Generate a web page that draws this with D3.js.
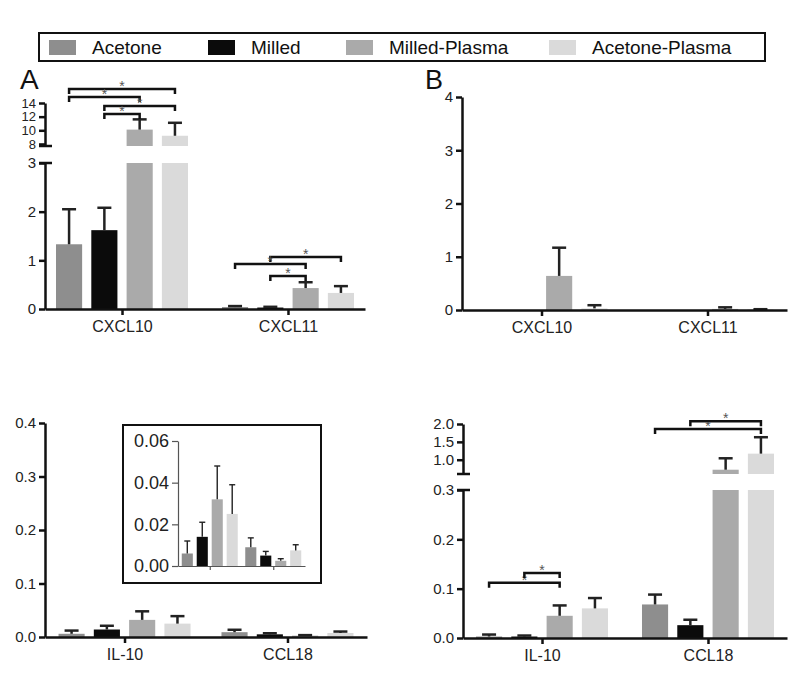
<!DOCTYPE html>
<html>
<head>
<meta charset="utf-8">
<script src="https://cdn.jsdelivr.net/npm/d3@7"></script>
<style>
  body { margin: 0; background: #fff; }
  svg { font-family: "Liberation Sans", Arial, sans-serif; }
</style>
</head>
<body>
<svg id="chart" width="800" height="680"></svg>
<script>
// *** Cytokine bar panels (A / B) ***

// Data
const series = ["Acetone", "Milled", "Milled-Plasma", "Acetone-Plasma"];
const colors = ["#8e8e8e", "#0b0b0b", "#aaaaaa", "#dadada"];
const topGroups = ["CXCL10", "CXCL11"];
const bottomGroups = ["IL-10", "CCL18"];

// panel A, top (means and upper error per group)
const aTopMeans = [[1.33, 1.62, 10.1, 9.2], [0.04, 0.03, 0.43, 0.33]];
const aTopErrs = [[0.72, 0.46, 1.5, 1.9], [0.02, 0.015, 0.12, 0.14]];
// panel B, top
const bTopMeans = [[0, 0, 0.64, 0.03], [0, 0, 0.02, 0.01]];
const bTopErrs = [[0, 0, 0.53, 0.06], [0, 0, 0.03, 0.005]];
// panel A, bottom (also used by inset)
const aBotMeans = [[0.006, 0.014, 0.032, 0.025], [0.009, 0.005, 0.0025, 0.0075]];
const aBotErrs = [[0.006, 0.007, 0.016, 0.014], [0.0045, 0.002, 0.001, 0.0027]];
// panel B, bottom
const bBotMeans = [[0.003, 0.003, 0.045, 0.060], [0.068, 0.026, 0.72, 1.17]];
const bBotErrs = [[0.004, 0.002, 0.021, 0.021], [0.020, 0.011, 0.32, 0.46]];

// tick labels
const aTopLowTicks = [0, 1, 2, 3];
const aTopHighTicks = [8, 10, 12, 14];
const bTopTicks = [0, 1, 2, 3, 4];
const aBotTicks = [0, 0.1, 0.2, 0.3, 0.4];
const insetTicks = [0, 0.02, 0.04, 0.06];
const bBotLowTicks = [0, 0.1, 0.2, 0.3];
const bBotHighTicks = [1.0, 1.5, 2.0];

// significance brackets: [group index, series i, series j, height (value)]
const aTopSig = [[0, 0, 3, 16.05], [0, 0, 2, 14.87], [0, 1, 3, 13.56], [0, 1, 2, 12.39],
                 [1, 1, 3, 1.07], [1, 0, 2, 0.925], [1, 1, 2, 0.68]];
const bBotSig = [[0, 0, 2, 0.112], [0, 1, 2, 0.132], [1, 0, 3, 1.86], [1, 1, 3, 2.08]];

let svg = d3.select("#chart");

// Function to draw one panel (optionally with a broken y axis)
function drawPanel(p) {
    let g = svg.append("g");
    let x = d3.scalePoint().domain(p.groups).range([p.x0, p.x1]).padding(p.pad);
    let inner = d3.scaleBand().domain(series).range([-p.half, p.half]).paddingInner(0.26);
    let bw = inner.bandwidth();
    let yLo = d3.scaleLinear().domain(p.loDomain).range(p.loRange);
    let yHi = p.hiDomain ? d3.scaleLinear().domain(p.hiDomain).range(p.hiRange) : null;

    // bars
    p.means.forEach(function(vals, gi) {
        vals.forEach(function(v, si) {
            let bx = x(p.groups[gi]) + inner(series[si]);
            let loTop = yLo(Math.min(v, p.loDomain[1]));
            g.append("rect")
                .attr("x", bx).attr("y", loTop)
                .attr("width", bw).attr("height", yLo(0) - loTop)
                .attr("fill", colors[si]);
            let inHigh = yHi && v > p.hiDomain[0];
            if (inHigh) {
                g.append("rect")
                    .attr("x", bx).attr("y", yHi(v))
                    .attr("width", bw).attr("height", yHi(p.hiDomain[0]) - yHi(v))
                    .attr("fill", colors[si]);
            }
            // error bar (upper only)
            let e = p.errs[gi][si];
            if (e > 0) {
                let sc = inHigh ? yHi : yLo;
                let cx = bx + bw / 2;
                g.append("line")
                    .attr("x1", cx).attr("x2", cx)
                    .attr("y1", sc(v)).attr("y2", sc(v + e))
                    .attr("stroke", "#222").attr("stroke-width", p.ew);
                g.append("line")
                    .attr("x1", cx - p.cap / 2).attr("x2", cx + p.cap / 2)
                    .attr("y1", sc(v + e)).attr("y2", sc(v + e))
                    .attr("stroke", "#222").attr("stroke-width", p.ew);
            }
        });
    });

    // x axis
    let xAxis = g.append("g")
        .attr("transform", `translate(0, ${yLo(0)})`)
        .call(d3.axisBottom(x).tickSize(p.xTick).tickSizeOuter(0).tickPadding(6)
            .tickFormat(p.xLabels ? (d => d) : () => ""));

    // y axes
    let yAxisLo = g.append("g")
        .attr("transform", `translate(${p.x0}, 0)`)
        .call(d3.axisLeft(yLo).tickValues(p.loTicks).tickSize(6).tickSizeOuter(0)
            .tickFormat(d3.format(p.fmt)));
    let axes = [xAxis, yAxisLo];
    let yAxisHi = null;
    if (yHi) {
        yAxisHi = g.append("g")
            .attr("transform", `translate(${p.x0}, 0)`)
            .call(d3.axisLeft(yHi).tickValues(p.hiTicks).tickSize(6).tickSizeOuter(0)
                .tickFormat(d3.format(p.hiFmt)));
        axes.push(yAxisHi);
        // break marks
        [yLo(p.loDomain[1]), yHi(p.hiDomain[0])].forEach(function(yy) {
            g.append("line")
                .attr("x1", p.x0 - 6).attr("x2", p.x0 + 7)
                .attr("y1", yy).attr("y2", yy)
                .attr("stroke", p.axisColor).attr("stroke-width", p.lw);
        });
    }
    axes.forEach(function(a) {
        a.selectAll(".domain, .tick line")
            .attr("stroke", p.axisColor).attr("stroke-width", p.lw);
        a.selectAll("text")
            .attr("font-size", p.font).attr("fill", "#222");
    });
    xAxis.selectAll("text").attr("font-size", p.xFont);
    if (yAxisHi && p.hiFont) yAxisHi.selectAll("text").attr("font-size", p.hiFont);

    // significance brackets
    (p.sig || []).forEach(function(s) {
        let gx = x(p.groups[s[0]]);
        let xa = gx + inner(series[s[1]]) + bw / 2;
        let xb = gx + inner(series[s[2]]) + bw / 2;
        let sc = (yHi && s[3] > p.loDomain[1]) ? yHi : yLo;
        let yy = sc(s[3]);
        g.append("path")
            .attr("d", `M${xa},${yy + 5}V${yy}H${xb}V${yy + 5}`)
            .attr("fill", "none").attr("stroke", "#111").attr("stroke-width", 2.5);
        g.append("text")
            .attr("x", (xa + xb) / 2).attr("y", yy + 2)
            .attr("text-anchor", "middle")
            .attr("font-size", 14).attr("fill", "#555")
            .text("*");
    });
    return g;
}

let mainStyle = { half: 66, ew: 2.5, cap: 14, lw: 2.5, font: 15, xFont: 16, xTick: 6,
                  xLabels: true, axisColor: "#111" };

// Panel A top (broken axis)
drawPanel(Object.assign({}, mainStyle, {
    groups: topGroups, means: aTopMeans, errs: aTopErrs,
    x0: 45, x1: 365, pad: 0.464,
    loDomain: [0, 3], loRange: [309, 163], loTicks: aTopLowTicks, fmt: "d",
    hiDomain: [7.7, 14], hiRange: [146, 103], hiTicks: aTopHighTicks, hiFmt: "d",
    hiFont: 13, sig: aTopSig
}));

// Panel B top
drawPanel(Object.assign({}, mainStyle, {
    groups: topGroups, means: bTopMeans, errs: bTopErrs,
    x0: 462, x1: 787, pad: 0.479,
    loDomain: [0, 4], loRange: [310, 97], loTicks: bTopTicks, fmt: "d"
}));

// Panel A bottom
drawPanel(Object.assign({}, mainStyle, {
    groups: bottomGroups, means: aBotMeans, errs: aBotErrs,
    x0: 45, x1: 367, pad: 0.488,
    loDomain: [0, 0.4], loRange: [637, 423], loTicks: aBotTicks, fmt: ".1f"
}));

// Panel B bottom (broken axis)
drawPanel(Object.assign({}, mainStyle, {
    groups: bottomGroups, means: bBotMeans, errs: bBotErrs,
    x0: 463, x1: 787, pad: 0.476,
    loDomain: [0, 0.3], loRange: [638, 490], loTicks: bBotLowTicks, fmt: ".1f",
    hiDomain: [0.6, 2.0], hiRange: [474, 424], hiTicks: bBotHighTicks, hiFmt: ".1f",
    sig: bBotSig
}));

// Inset in panel A bottom
svg.append("rect")
    .attr("x", 123).attr("y", 425).attr("width", 198).attr("height", 158)
    .attr("fill", "#fff").attr("stroke", "#111").attr("stroke-width", 2);

drawPanel({
    groups: bottomGroups, means: aBotMeans, errs: aBotErrs,
    x0: 178, x1: 305, pad: 0.5, half: 28,
    ew: 1.4, cap: 6, lw: 1.2, font: 18, xFont: 18, xTick: 4, xLabels: false,
    axisColor: "#555",
    loDomain: [0, 0.06], loRange: [566, 441], loTicks: insetTicks, fmt: ".2f"
});

// Panel letters
svg.append("text").attr("x", 20).attr("y", 89)
    .attr("font-size", 28).attr("fill", "#111").text("A");
svg.append("text").attr("x", 425).attr("y", 89)
    .attr("font-size", 27).attr("fill", "#111").text("B");

// Legend
let legend = svg.append("g");
legend.append("rect")
    .attr("x", 39).attr("y", 33).attr("width", 726).attr("height", 28)
    .attr("fill", "#fff").attr("stroke", "#111").attr("stroke-width", 2);
let swatchX = [49, 208, 346, 549];
series.forEach(function(s, i) {
    legend.append("rect")
        .attr("x", swatchX[i]).attr("y", 40).attr("width", 27).attr("height", 15)
        .attr("fill", colors[i]);
    legend.append("text")
        .attr("x", swatchX[i] + 43).attr("y", 54)
        .attr("font-size", 19).attr("fill", "#111")
        .text(s);
});
</script>
</body>
</html>
